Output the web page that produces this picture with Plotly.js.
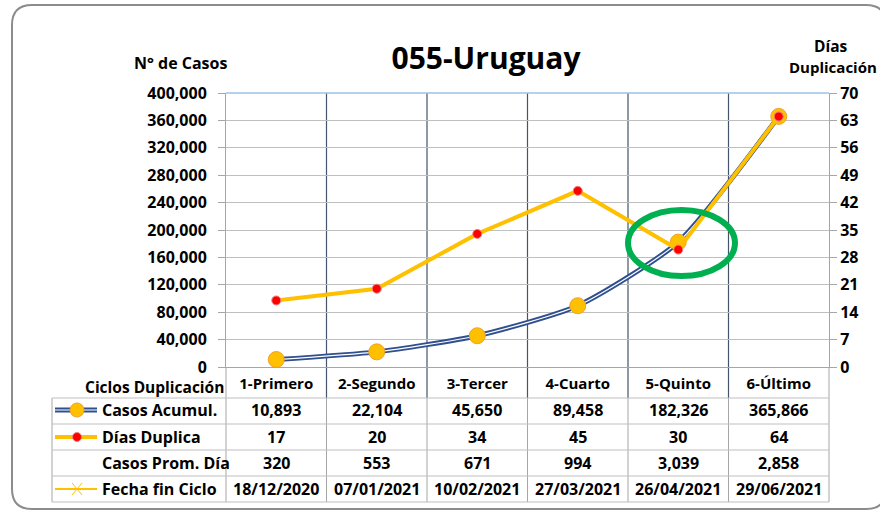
<!DOCTYPE html>
<html><head><meta charset="utf-8">
<script src="https://cdn.plot.ly/plotly-3.0.1.min.js"></script>
<style>html,body{margin:0;padding:0;background:#fff}#chart{width:880px;height:512px}</style>
</head><body><div id="chart"></div>
<script>
const ciclos = ['1-Primero','2-Segundo','3-Tercer','4-Cuarto','5-Quinto','6-Último'];
const casosAcumul = [10893, 22104, 45650, 89458, 182326, 365866];
const diasDuplica = [17, 20, 34, 45, 30, 64];
const casosPromDia = [320, 553, 671, 994, 3039, 2858];
const fechaFin = ['18/12/2020','07/01/2021','10/02/2021','27/03/2021','26/04/2021','29/06/2021'];
const leftTicks = [0,40000,80000,120000,160000,200000,240000,280000,320000,360000,400000];
const rightTicks = [0,7,14,21,28,35,42,49,56,63,70];
const rowLabels = ['Casos Acumul.','Días Duplica','Casos Prom. Día','Fecha fin Ciclo'];

const W=880,H=512, L=226, R=829, T=93, B=367;
const px = v => (v-L)/(R-L);
const py = v => (B-v)/(B-T);
const FONT = 'Open Sans, sans-serif';
const fmt = n => n.toLocaleString('en-US');

const traces = [
  {x:ciclos, y:casosAcumul, type:'scatter', mode:'lines', line:{color:'#2f4f8f', width:5, shape:'spline', smoothing:0.6}, hoverinfo:'skip', showlegend:false},
  {x:ciclos, y:casosAcumul, type:'scatter', mode:'lines+markers', line:{color:'#ffffff', width:1.2, shape:'spline', smoothing:0.6},
   marker:{size:16, color:'#ffc000', line:{color:'#f0a030', width:1}}, showlegend:false},
  {x:ciclos, y:diasDuplica, yaxis:'y2', type:'scatter', mode:'lines+markers', line:{color:'#ffc000', width:4},
   marker:{size:9, color:'#ff0000', line:{color:'#f08080', width:1}}, showlegend:false}
];

const shapes = [];
const ann = [];
for (let k=0;k<5;k++){
  shapes.push({type:'line', xref:'x', yref:'paper', x0:k+0.5, x1:k+0.5, y0:py(398), y1:1, line:{color:'#44546a', width:1.2}, layer:'below'});
  shapes.push({type:'line', xref:'x', yref:'paper', x0:k+0.5, x1:k+0.5, y0:py(502), y1:py(398), line:{color:'#a6a6a6', width:1}, layer:'below'});
}
shapes.push({type:'line', xref:'paper', yref:'paper', x0:0, x1:0, y0:py(502), y1:0, line:{color:'#a6a6a6', width:1}});
shapes.push({type:'line', xref:'paper', yref:'paper', x0:1, x1:1, y0:py(502), y1:0, line:{color:'#a6a6a6', width:1}});
shapes.push({type:'line', xref:'paper', yref:'paper', x0:px(52), x1:px(52), y0:py(502), y1:py(398), line:{color:'#a6a6a6', width:1}});
[398,424,450,476,502].forEach(y=>{
  shapes.push({type:'line', xref:'paper', yref:'paper', x0:px(52), x1:1, y0:py(y), y1:py(y), line:{color:'#bfbfbf', width:1}});
});
shapes.push({type:'line', xref:'paper', yref:'paper', x0:0, x1:1, y0:1, y1:1, line:{color:'#9dc3e6', width:1.5}});
{
  const x0=12,y0=5,x1=886,y1=509,r=20;
  shapes.push({type:'path', xref:'paper', yref:'paper', layer:'below',
    path:`M ${px(x0+r)},${py(y0)} L ${px(x1-r)},${py(y0)} Q ${px(x1)},${py(y0)} ${px(x1)},${py(y0+r)} L ${px(x1)},${py(y1-r)} Q ${px(x1)},${py(y1)} ${px(x1-r)},${py(y1)} L ${px(x0+r)},${py(y1)} Q ${px(x0)},${py(y1)} ${px(x0)},${py(y1-r)} L ${px(x0)},${py(y0+r)} Q ${px(x0)},${py(y0)} ${px(x0+r)},${py(y0)} Z`,
    line:{color:'#8c8c8c', width:2}});
}
shapes.push({type:'circle', xref:'paper', yref:'paper', x0:px(628), x1:px(735), y0:py(276), y1:py(210), line:{color:'#00b050', width:6}});
shapes.push({type:'line', xref:'paper', yref:'paper', x0:px(55), x1:px(97), y0:py(410), y1:py(410), line:{color:'#2f4f8f', width:5}});
shapes.push({type:'line', xref:'paper', yref:'paper', x0:px(55), x1:px(97), y0:py(410), y1:py(410), line:{color:'#ffffff', width:1.2}});
shapes.push({type:'circle', xref:'paper', yref:'paper', x0:px(70), x1:px(84), y0:py(417), y1:py(403), fillcolor:'#ffc000', line:{color:'#f0a030', width:1}});
shapes.push({type:'line', xref:'paper', yref:'paper', x0:px(55), x1:px(97), y0:py(437), y1:py(437), line:{color:'#ffc000', width:4}});
shapes.push({type:'circle', xref:'paper', yref:'paper', x0:px(72.5), x1:px(81.5), y0:py(441.5), y1:py(432.5), fillcolor:'#ff0000', line:{color:'#f08080', width:1}});
shapes.push({type:'line', xref:'paper', yref:'paper', x0:px(55), x1:px(97), y0:py(489), y1:py(489), line:{color:'#ffc000', width:2}});
shapes.push({type:'line', xref:'paper', yref:'paper', x0:px(72), x1:px(82), y0:py(483), y1:py(495), line:{color:'#ffc000', width:1}});
shapes.push({type:'line', xref:'paper', yref:'paper', x0:px(72), x1:px(82), y0:py(495), y1:py(483), line:{color:'#ffc000', width:1}});

const F = size => ({family:FONT, size:size, color:'#000', weight:700});
const rows = [casosAcumul.map(fmt), diasDuplica.map(String), casosPromDia.map(fmt), fechaFin];
const rowY = [410, 437, 463, 489];
rows.forEach((r,ri)=>{
  r.forEach((v,ci)=>{
    ann.push({x:ciclos[ci], xref:'x', y:py(rowY[ri]), yref:'paper', text:v, showarrow:false, xanchor:'center', yanchor:'middle', font:F(16)});
  });
  ann.push({x:px(100), xref:'paper', y:py(rowY[ri]), yref:'paper', text:rowLabels[ri], showarrow:false, xanchor:'left', yanchor:'middle', font:F(16)});
});
ann.push({x:px(225), xref:'paper', y:py(387), yref:'paper', text:'Ciclos Duplicación', showarrow:false, xanchor:'right', yanchor:'middle', font:F(15.5), borderpad:0});
ann.push({x:px(180), xref:'paper', y:py(63), yref:'paper', text:'N° de Casos', showarrow:false, xanchor:'center', yanchor:'middle', font:F(16)});
ann.push({x:px(831), xref:'paper', y:py(46), yref:'paper', text:'Días', showarrow:false, xanchor:'center', yanchor:'middle', font:F(15.5)});
ann.push({x:px(878), xref:'paper', y:py(67), yref:'paper', text:'Duplicación', showarrow:false, xanchor:'right', yanchor:'middle', font:F(15), borderpad:0});

const layout = {
  width:W, height:H, margin:{l:L, r:W-R, t:T, b:H-B},
  paper_bgcolor:'#ffffff', plot_bgcolor:'rgba(0,0,0,0)',
  title:{text:'055-Uruguay', font:F(30), x:px(486), xref:'paper', xanchor:'center', y:1-(58/H), yanchor:'middle'},
  showlegend:false,
  xaxis:{type:'category', categoryorder:'array', categoryarray:ciclos, range:[-0.5,5.5], showgrid:false, zeroline:false,
    showline:true, linecolor:'#a6a6a6', linewidth:1, ticks:'', showticklabels:true, ticklabelstandoff:3,
    tickfont:F(15)},
  yaxis:{range:[0,400000], tickvals:leftTicks, ticktext:leftTicks.map(fmt), showgrid:true, gridcolor:'#bfbfbf', gridwidth:1,
    zeroline:false, showline:true, linecolor:'#a6a6a6', ticks:'outside', ticklen:7, tickcolor:'#a6a6a6', ticklabelstandoff:8,
    tickfont:F(16)},
  yaxis2:{range:[0,70], tickvals:rightTicks, overlaying:'y', side:'right', showgrid:false, zeroline:false, showline:true,
    linecolor:'#a6a6a6', ticks:'outside', ticklen:7, tickcolor:'#a6a6a6',
    tickfont:F(16)},
  shapes:shapes, annotations:ann
};
Plotly.newPlot('chart', traces, layout, {displayModeBar:false, staticPlot:true});
</script></body></html>
